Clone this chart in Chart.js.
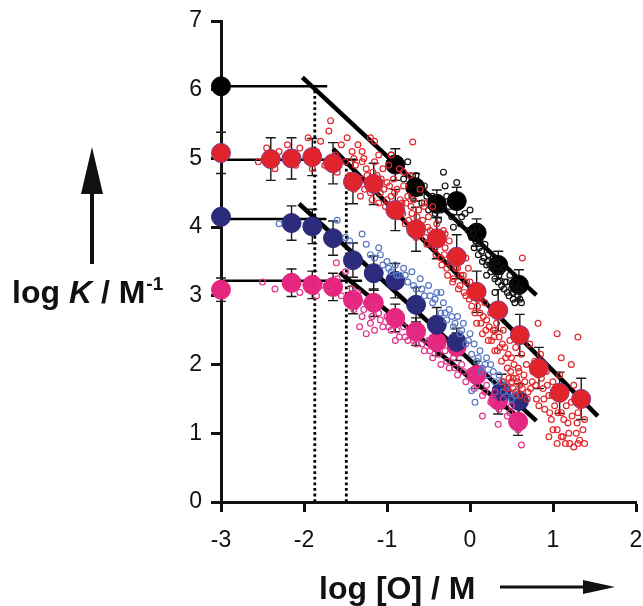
<!DOCTYPE html>
<html>
<head>
<meta charset="utf-8">
<script src="https://cdn.jsdelivr.net/npm/chart.js@4"></script>
<style>
  html, body { margin: 0; padding: 0; background: #fff; }
  #wrap { width: 643px; height: 606px; }
</style>
</head>
<body>
<div id="wrap"><canvas id="chart" width="643" height="606"></canvas></div>
<script>
// ---- large averaged points (log[O], log K, error) ----
const blackX = [-3, -0.90, -0.66, -0.40, -0.16, 0.08, 0.34, 0.59];
const blackY = [6.05, 4.91, 4.58, 4.34, 4.38, 3.92, 3.45, 3.16];
const blackErr = [0, 0.23, 0.2, 0.2, 0.2, 0.2, 0.2, 0.22];

const redX = [-3, -2.40, -2.15, -1.90, -1.65, -1.41, -1.16, -0.90, -0.65, -0.40, -0.16, 0.08, 0.34, 0.60, 0.83, 1.08, 1.34];
const redY = [5.08, 4.99, 5.00, 5.02, 4.93, 4.66, 4.63, 4.25, 3.97, 3.84, 3.57, 3.06, 2.79, 2.43, 1.95, 1.59, 1.50];
const redErr = [0.3, 0.31, 0.3, 0.27, 0.3, 0.32, 0.3, 0.3, 0.32, 0.3, 0.32, 0.3, 0.3, 0.3, 0.3, 0.3, 0.3];

const blueX = [-3, -2.15, -1.90, -1.65, -1.41, -1.16, -0.90, -0.65, -0.40, -0.16, 0.38, 0.59];
const blueY = [4.15, 4.06, 4.01, 3.84, 3.52, 3.33, 3.22, 2.87, 2.58, 2.33, 1.61, 1.47];
const blueErr = [0, 0.25, 0.25, 0.25, 0.25, 0.25, 0.25, 0.25, 0.25, 0.2, 0.25, 0.25];

const pinkX = [-3, -2.15, -1.90, -1.65, -1.41, -1.16, -0.90, -0.65, -0.40, -0.16, 0.08, 0.34, 0.58];
const pinkY = [3.09, 3.19, 3.16, 3.13, 2.94, 2.90, 2.68, 2.48, 2.33, 2.26, 1.85, 1.48, 1.17];
const pinkErr = [0.17, 0.2, 0.2, 0.2, 0.2, 0.2, 0.2, 0.2, 0.2, 0.2, 0.2, 0.2, 0.2];

// ---- individual measurements (open rings) ----
const redRaw = [
  [-2.55,4.95],[-2.45,5.15],[-2.35,4.85],[-2.3,5.1],[-2.2,5.2],[-2.1,4.9],[-2.05,5.15],[-1.95,5.3],
  [-1.9,4.85],[-1.85,5.1],[-1.8,5.25],[-1.75,4.9],[-1.7,5.4],[-1.68,5.55],[-1.62,5.05],[-1.6,4.8],
  [-1.55,5.2],[-1.5,4.95],[-1.48,5.3],[-1.45,4.75],[-1.42,5.1],[-1.4,4.55],[-1.38,4.9],[-1.35,5.2],
  [-1.32,4.45],[-1.3,4.7],[-1.28,5.0],[-1.25,4.85],[-1.22,4.6],[-1.2,5.3],[-1.18,4.4],[-1.15,4.95],
  [-1.12,4.75],[-1.1,5.05],[-1.08,4.5],[-1.05,4.85],[-1.02,4.3],[-1.0,4.65],[-0.98,4.9],[-0.95,4.45],
  [-0.92,4.7],[-0.9,4.2],[-0.88,4.55],[-0.85,4.85],[-0.82,4.35],[-0.8,4.6],[-0.78,4.05],[-0.75,4.45],
  [-0.72,4.75],[-0.7,4.2],[-0.69,5.24],[-0.68,4.4],[-0.65,3.85],[-0.62,4.25],[-0.6,4.55],[-0.58,4.0],
  [-0.55,4.3],[-0.52,3.75],[-0.5,4.15],[-0.48,3.95],[-0.45,4.3],[-0.42,3.7],[-0.4,4.05],[-0.38,3.85],
  [-0.35,3.55],[-0.32,3.95],[-0.3,3.7],[-0.28,3.4],[-0.25,3.8],[-0.22,3.55],[-0.2,3.25],[-0.18,3.65],
  [-0.15,3.4],[-0.12,3.15],[-0.1,3.55],[-0.08,3.3],[-0.05,3.0],[-0.02,3.4],[0.0,3.2],[0.02,2.85],
  [0.05,3.1],[0.08,2.6],[0.1,2.95],[0.12,2.75],[0.15,2.45],[0.18,2.9],[0.2,2.65],[0.22,2.35],
  [0.25,2.75],[0.28,2.5],[0.3,2.2],[0.32,2.6],[0.35,2.4],[0.38,2.05],[0.4,2.5],[0.42,2.25],
  [0.45,1.95],[0.48,2.35],[0.5,2.1],[0.4,1.75],[0.45,1.65],[0.5,1.75],[0.55,1.6],[0.6,1.55],
  [0.52,1.8],[0.55,2.25],[0.58,1.95],[0.6,1.7],[0.62,2.15],[0.65,1.85],[0.68,2.0],[0.7,1.6],
  [0.72,2.3],[0.75,1.75],[0.78,2.05],[0.8,1.5],[0.82,1.85],[0.85,2.15],[0.88,1.65],[0.9,1.35],
  [0.92,1.9],[0.95,1.55],[0.98,1.2],[1.0,1.75],[1.02,1.4],[1.05,1.05],[1.08,1.85],[1.1,1.3],
  [1.12,0.95],[1.15,1.6],[1.18,1.15],[1.2,0.85],[1.22,1.45],[1.25,1.7],[1.28,1.0],[1.3,1.3],
  [1.32,0.9],[1.35,1.55],[1.38,1.2],[0.95,0.95],[1.05,0.85],[1.25,0.8],[0.63,3.55],[0.82,2.6],
  [1.05,2.45],[1.3,2.4],[1.1,2.1],[1.22,2.0],
  [-1.45,4.6],[-1.4,5.0],[-1.35,4.65],[-1.3,4.95],[-1.27,4.55],[-1.24,4.75],[-1.2,4.5],[-1.17,4.8],
  [-1.14,4.6],[-1.1,4.35],[-1.07,4.7],[-1.04,4.55],[-1.0,4.4],[-0.97,4.6],[-0.94,4.3],[-0.91,4.5],
  [-0.87,4.15],[-0.84,4.4],[-0.81,4.2],[-0.77,4.35],[-0.74,4.1],[-0.71,4.3],[-0.67,3.95],[-0.64,4.15],
  [-0.61,3.9],[-0.57,4.1],[-0.54,3.85],[-0.51,4.0],[-0.47,3.75],[-0.44,3.9],[-0.41,3.6],[-0.37,3.75],
  [-0.34,3.45],[-0.31,3.6],[-0.27,3.3],[-0.24,3.5],[-0.21,3.2],[-0.17,3.4],[-0.14,3.1],[-0.11,3.3],
  [-0.07,3.05],[-0.04,3.2],[-0.01,2.95],[0.03,3.0],[0.06,2.75],[0.09,2.85],[0.13,2.6],[0.16,2.7],
  [0.19,2.5],[0.23,2.55],[0.26,2.35],[0.29,2.4],[0.33,2.2],[0.36,2.25],[0.39,2.3],[0.43,2.1],
  [0.46,2.15],[0.49,1.9],[0.53,2.0],[0.56,1.8],[0.59,1.9],[0.63,1.65],[0.66,1.75],[0.69,1.5],
  [0.73,1.65],[0.76,1.9],[0.79,1.7],[0.83,1.4],[0.86,1.8],[0.89,1.5],[0.93,1.7],[0.96,1.3],
  [0.99,1.55],[1.03,1.65],[1.06,1.3],[1.09,1.5],[1.13,1.2],[1.16,1.4],[1.19,1.0],[1.23,1.25],
  [1.26,1.5],[1.29,1.15],[1.33,1.4],[1.36,1.05],[1.1,0.95],[1.15,0.85],[1.0,1.05],[1.3,0.85],
  [1.38,0.85],[0.47,1.8],[0.52,1.65],[0.57,1.75],[0.3,2.5],[0.1,3.1],[-0.05,3.55],[-0.3,3.9],
  [-0.55,4.35],[-0.8,4.8],[-1.15,5.25],[-1.3,5.1],[-0.95,5.05]
];
const blackRaw = [
  [-0.95,5.05],[-0.85,4.85],[-0.8,4.7],[-0.75,4.95],[-0.72,4.6],[-0.7,4.45],[-0.65,4.75],[-0.6,4.5],
  [-0.58,4.35],[-0.55,4.6],[-0.5,4.25],[-0.45,4.45],[-0.42,4.2],[-0.38,4.1],[-0.32,4.8],[-0.3,4.6],
  [-0.25,4.3],[-0.2,4.0],[-0.16,4.65],[-0.1,4.15],[-0.06,4.2],[0.0,4.25],[0.02,3.85],[0.05,3.7],
  [0.08,4.0],[0.1,3.6],[0.12,3.8],[0.15,3.5],[0.18,3.75],[0.2,3.45],[0.22,3.6],[0.25,3.35],
  [0.28,3.55],[0.3,3.25],[0.32,3.5],[0.35,3.3],[0.38,3.15],[0.4,3.4],[0.42,3.2],[0.45,3.05],
  [0.48,3.3],[0.5,3.1],[0.52,2.95],[0.55,3.2],[0.58,3.0],[0.6,3.1],[0.62,2.9],[0.2,3.3],[0.3,3.05],
  [-0.62,4.6],[-0.52,4.45],[-0.35,4.25],[-0.28,4.45],[-0.22,4.15],[-0.12,4.05],[-0.02,3.95],[0.04,3.9],
  [0.07,3.8],[0.11,3.7],[0.14,3.65],[0.17,3.55],[0.21,3.5],[0.24,3.45],[0.27,3.4],[0.31,3.35],
  [0.34,3.2],[0.37,3.35],[0.41,3.1],[0.44,3.2],[0.47,3.0],[0.51,3.05],[0.54,2.9],[0.57,3.1],[0.6,2.95]
];
const blueRaw = [
  [-2.3,4.05],[-1.6,4.1],[-1.5,3.85],[-1.45,3.8],[-1.3,3.9],[-1.2,3.6],[-1.1,3.7],[-1.05,3.45],
  [-1.0,3.5],[-0.95,3.35],[-0.9,3.45],[-0.85,3.3],[-0.8,3.4],[-0.75,3.2],[-0.7,3.35],[-0.65,3.1],
  [-0.6,3.25],[-0.55,3.0],[-0.5,3.15],[-0.45,2.9],[-0.4,3.05],[-0.35,2.75],[-0.35,3.05],[-0.32,2.9],
  [-0.28,2.65],[-0.25,2.8],[-0.2,2.55],[-0.15,2.7],[-0.12,2.45],[-0.08,2.6],[-0.05,2.3],[0.0,2.45],
  [0.02,2.15],[0.05,2.3],[0.08,2.05],[0.12,2.2],[0.15,1.95],[0.2,2.1],[0.22,1.85],[0.25,2.0],
  [0.3,1.75],[0.35,1.85],[0.4,1.6],[0.45,1.7],[0.5,1.5],[0.06,1.45],[0.02,1.62],
  [-1.25,3.75],[-1.15,3.55],[-1.08,3.6],[-0.98,3.4],[-0.88,3.3],[-0.78,3.3],[-0.68,3.15],[-0.58,3.1],
  [-0.48,3.0],[-0.42,2.95],[-0.3,2.75],[-0.22,2.7],[-0.18,2.6],[-0.1,2.5],[-0.02,2.35],[0.1,2.1],
  [0.18,2.0],[0.28,1.9],[0.38,1.75],[0.48,1.6],[0.55,1.55],[0.13,1.9]
];
const pinkRaw = [
  [-2.5,3.2],[-2.35,3.1],[-2.2,3.25],[-2.05,3.05],[-1.95,3.2],[-1.85,3.0],[-1.8,3.15],[-1.7,3.1],
  [-1.61,3.48],[-1.6,3.25],[-1.55,3.0],[-1.5,3.35],[-1.45,2.95],[-1.4,2.8],[-1.35,3.05],[-1.33,2.55],
  [-1.3,2.7],[-1.25,2.9],[-1.25,2.45],[-1.2,2.6],[-1.15,2.85],[-1.1,2.75],[-1.05,2.55],[-1.0,2.7],
  [-0.95,2.5],[-0.9,2.6],[-0.85,2.4],[-0.8,2.55],[-0.75,2.35],[-0.7,2.5],[-0.65,2.3],[-0.6,2.45],
  [-0.55,2.2],[-0.5,2.35],[-0.45,2.1],[-0.4,2.25],[-0.35,2.0],[-0.3,2.2],[-0.25,1.95],[-0.2,2.1],
  [-0.15,1.85],[-0.1,2.0],[-0.05,1.75],[0.0,1.9],[0.05,1.65],[0.1,1.8],[0.15,1.55],[0.15,1.25],
  [0.2,1.7],[0.25,1.45],[0.3,1.6],[0.34,1.13],[0.35,1.35],[0.4,1.5],[0.45,1.25],[0.5,1.4],
  [0.55,1.15],[0.62,0.83],
  [-1.42,3.1],[-1.38,2.85],[-1.28,2.8],[-1.18,2.7],[-1.08,2.65],[-0.98,2.55],[-0.88,2.5],[-0.78,2.4],
  [-0.68,2.35],[-0.58,2.3],[-0.48,2.2],[-0.38,2.15],[-0.28,2.05],[-0.18,1.95],[-0.08,1.9],[0.02,1.8],
  [0.08,1.7],[0.18,1.6],[0.28,1.5],[0.38,1.4],[0.48,1.3],[0.52,1.2],[0.58,1.05],[-1.15,2.5],[-0.9,2.35]
];

// ---- fitted lines and guide lines ----
const blackFit = [[-2.02, 6.18], [0.80, 3.01]];
const redFit = [[-1.65, 5.14], [1.54, 1.25]];
const blueFit = [[-2.06, 4.34], [0.80, 1.18]];
const pinkFit = [[-1.57, 3.34], [0.60, 1.22]];
const plateaus = [[6.05, -1.72], [4.98, -1.36], [4.12, -1.73], [3.22, -1.30]];
const dropLines = [[-1.87, 6.05], [-1.49, 5.0]];

const xTicks = [-3, -2, -1, 0, 1, 2];
const yTicks = [0, 1, 2, 3, 4, 5, 6, 7];

const FONT = '"Liberation Sans", Arial, sans-serif';

const pts = (xs, ys) => xs.map((x, i) => ({ x: x, y: ys[i] }));
const pairs = arr => arr.map(p => ({ x: p[0], y: p[1] }));

function rings(data, color) {
  return { data: pairs(data), pointRadius: 2.9, pointBorderWidth: 1.2, pointBorderColor: color,
           pointBackgroundColor: 'rgba(255,255,255,0)', showLine: false, clip: false };
}
function bigDots(xs, ys, errs, color, border) {
  return { data: pts(xs, ys), errors: errs, pointRadius: 9.5, pointBorderWidth: 1,
           pointBackgroundColor: color, pointBorderColor: border || color, showLine: false, clip: false };
}
function line(data, width, dash) {
  return { data: pairs(data), showLine: true, pointRadius: 0, borderColor: '#000', borderWidth: width,
           borderDash: dash || [], borderCapStyle: 'butt', clip: false, fill: false };
}

const datasets = [
  rings(redRaw, '#e1262c'),
  rings(blackRaw, '#111'),
  rings(blueRaw, '#5877c2'),
  rings(pinkRaw, '#e2318b'),
  bigDots(redX, redY, redErr, '#e1242b', '#7d3d8e'),
  bigDots(blackX, blackY, blackErr, '#000'),
  bigDots(blueX, blueY, blueErr, '#2c2b7c'),
  bigDots(pinkX, pinkY, pinkErr, '#e4267f'),
];
plateaus.forEach(p => datasets.push(line([[-3, p[0]], [p[1], p[0]]], 2.5)));
dropLines.forEach(d => datasets.push(line([[d[0], 0], [d[0], d[1]]], 2.8, [2.8, 2.8])));
[blackFit, redFit, blueFit, pinkFit].forEach(f => datasets.push(line(f, 4.5)));

// error bars drawn under the dots
const errorBars = {
  id: 'errorBars',
  beforeDatasetsDraw(chart) {
    const { ctx, scales: { x, y } } = chart;
    ctx.save();
    ctx.strokeStyle = '#1a1a1a';
    ctx.lineWidth = 1.4;
    chart.data.datasets.forEach(ds => {
      if (!ds.errors) return;
      ds.data.forEach((p, i) => {
        const e = ds.errors[i];
        if (!e) return;
        const px = x.getPixelForValue(p.x);
        const t = y.getPixelForValue(p.y + e), b = y.getPixelForValue(p.y - e);
        ctx.beginPath();
        ctx.moveTo(px, t); ctx.lineTo(px, b);
        ctx.moveTo(px - 5, t); ctx.lineTo(px + 5, t);
        ctx.moveTo(px - 5, b); ctx.lineTo(px + 5, b);
        ctx.stroke();
      });
    });
    ctx.restore();
  }
};

// axis titles with arrows
const titles = {
  id: 'titles',
  afterDraw(chart) {
    const ctx = chart.ctx;
    ctx.save();
    ctx.fillStyle = '#111';
    ctx.strokeStyle = '#111';
    ctx.textBaseline = 'alphabetic';
    const f = 32;
    let x = 12;
    [['log ', 'bold'], ['K', 'italic bold'], [' / M', 'bold']].forEach(([t, s]) => {
      ctx.font = s + ' ' + f + 'px ' + FONT;
      ctx.fillText(t, x, 303);
      x += ctx.measureText(t).width;
    });
    ctx.font = 'bold 19px ' + FONT;
    ctx.fillText('-1', x + 1, 290);

    ctx.font = 'bold ' + f + 'px ' + FONT;
    ctx.fillText('log [O] / M', 319, 599);

    // up arrow
    ctx.lineWidth = 4;
    ctx.beginPath(); ctx.moveTo(92, 264); ctx.lineTo(92, 185); ctx.stroke();
    ctx.beginPath(); ctx.moveTo(92, 147); ctx.lineTo(103, 194); ctx.lineTo(81, 194); ctx.closePath(); ctx.fill();
    // right arrow
    ctx.lineWidth = 3;
    ctx.beginPath(); ctx.moveTo(500, 587); ctx.lineTo(590, 587); ctx.stroke();
    ctx.beginPath(); ctx.moveTo(615, 587); ctx.lineTo(583, 580); ctx.lineTo(583, 594); ctx.closePath(); ctx.fill();
    ctx.restore();
  }
};

new Chart(document.getElementById('chart'), {
  type: 'scatter',
  data: { datasets: datasets },
  options: {
    responsive: false,
    animation: false,
    layout: { autoPadding: false, padding: { top: 21, right: 7, left: 0, bottom: 0 } },
    plugins: { legend: { display: false }, tooltip: { enabled: false } },
    scales: {
      x: {
        type: 'linear', min: -3, max: 2,
        afterFit: s => { s.height = 104; s.paddingLeft = 0; s.paddingRight = 0; },
        afterBuildTicks: s => { s.ticks = xTicks.map(v => ({ value: v })); },
        border: { display: true, width: 3, color: '#111' },
        grid: { drawOnChartArea: false, drawTicks: true, tickLength: 10, tickWidth: 3, tickColor: '#111' },
        ticks: { color: '#111', padding: 0, font: { family: FONT, size: 23, lineHeight: 2.45 } }
      },
      y: {
        type: 'linear', min: 0, max: 7,
        afterFit: s => { s.width = 221; s.paddingTop = 0; s.paddingBottom = 0; },
        afterBuildTicks: s => { s.ticks = yTicks.map(v => ({ value: v })); },
        border: { display: true, width: 3, color: '#111' },
        grid: { drawOnChartArea: false, drawTicks: true, tickLength: 10, tickWidth: 3, tickColor: '#111' },
        ticks: { color: '#111', padding: 9, font: { family: FONT, size: 23 } }
      }
    }
  },
  plugins: [errorBars, titles]
});
</script>
</body>
</html>
